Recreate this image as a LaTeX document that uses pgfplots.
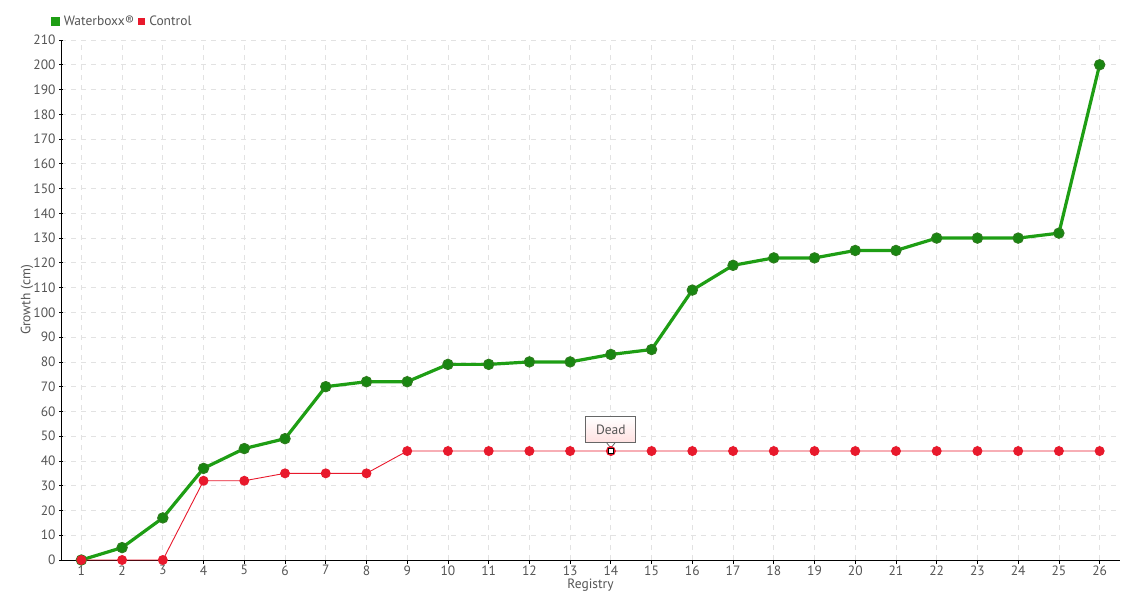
\documentclass[border=0pt]{standalone}
\usepackage{fontspec}
\setmainfont{PT Sans}
\usepackage{pgfplots}
\pgfplotsset{compat=1.18}
\definecolor{gline}{HTML}{1E9E14}
\definecolor{gedge}{HTML}{2E7D1E}
\definecolor{rline}{HTML}{E8192C}
\definecolor{txt}{HTML}{555555}
\definecolor{gridc}{HTML}{E2E2E2}
\begin{document}
\begin{tikzpicture}[x=1pt,y=1pt]
\useasboundingbox (0,0) rectangle (1140,600);
\begin{axis}[
  at={(61pt,40pt)}, anchor=south west,
  scale only axis, width=1059pt, height=520pt,
  xmin=0.5, xmax=26.5, ymin=0, ymax=210,
  xtick={1,...,26}, ytick={0,10,...,210},
  axis x line*=bottom, axis y line*=left,
  axis line style={black, line width=0.8pt, -},
  tick style={black, line width=0.8pt},
  major tick length=4pt,
  xtick align=outside, ytick align=center,
  grid=major,
  major grid style={gridc, dashed, dash pattern=on 5pt off 5pt, line width=0.8pt},
  ticklabel style={font=\fontsize{13.5}{15}\selectfont, text=txt},
  xticklabel style={yshift=2pt},
  /pgf/number format/assume math mode=true,
  xlabel={Registry}, ylabel={Growth (cm)},
  label style={font=\fontsize{13.5}{15}\selectfont, text=txt},
  xlabel style={at={(axis description cs:0.5,0)}, anchor=center, yshift=-25pt},
  ylabel style={at={(axis description cs:-0.032,0.5)}, anchor=center},
  legend columns=-1,
  legend style={at={(axis description cs:-0.01,1)}, anchor=south west, yshift=11pt,
    draw=none, fill=none, font=\fontsize{13.5}{15}\selectfont, text=txt,
    inner sep=0pt, column sep=2pt},
  legend image code/.code={\fill[#1] (0pt,-3pt) rectangle (6pt,3pt);},
  clip=false,
]
\addplot[gline, line width=3.2pt, mark=*, mark size=5.2pt,
  mark options={fill=gline!85!black, draw=gedge, line width=1pt}]
coordinates {
(1,0)(2,5)(3,17)(4,37)(5,45)(6,49)(7,70)(8,72)(9,72)(10,79)(11,79)(12,80)(13,80)
(14,83)(15,85)(16,109)(17,119)(18,122)(19,122)(20,125)(21,125)(22,130)(23,130)
(24,130)(25,132)(26,200)};
\addlegendentry{Waterboxx®}
\addplot[rline, line width=0.9pt, mark=*, mark size=4.5pt,
  mark options={fill=rline, draw=rline}]
coordinates {
(1,0)(2,0)(3,0)(4,32)(5,32)(6,35)(7,35)(8,35)(9,44)(10,44)(11,44)(12,44)(13,44)
(14,44)(15,44)(16,44)(17,44)(18,44)(19,44)(20,44)(21,44)(22,44)(23,44)(24,44)
(25,44)(26,44)};
\addlegendentry{Control}
\addplot[only marks, mark=square*, mark size=2.3pt,
  mark options={fill=white, draw=black, line width=1.3pt}, forget plot]
coordinates {(14,44)};
\node[draw=gray!80!black, line width=0.8pt, top color=white, bottom color=red!12,
  font=\fontsize{13.5}{15}\selectfont, text=txt, minimum width=50pt, minimum height=26pt,
  inner sep=2pt, anchor=south] (dead) at ([yshift=8pt]axis cs:14,44) {Dead};
\fill[white] ([xshift=-4pt]dead.south) -- ([yshift=-5pt]dead.south) -- ([xshift=4pt]dead.south) -- cycle;
\draw[gray!80!black, line width=0.8pt] ([xshift=-4pt]dead.south) -- ([yshift=-5pt]dead.south) -- ([xshift=4pt]dead.south);
\end{axis}
\end{tikzpicture}
\end{document}
